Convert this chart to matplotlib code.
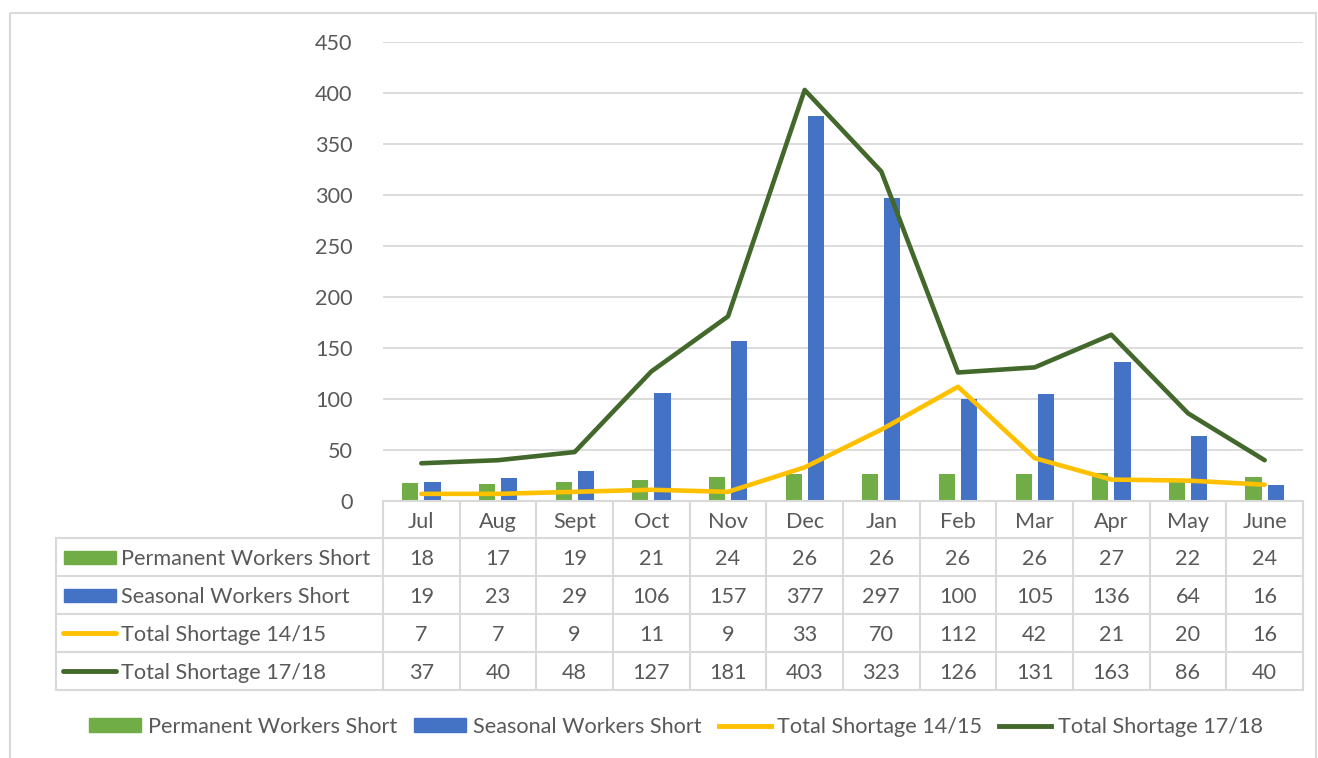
import matplotlib.pyplot as plt
from matplotlib.patches import Rectangle
from matplotlib.lines import Line2D

months = ['Jul', 'Aug', 'Sept', 'Oct', 'Nov', 'Dec', 'Jan', 'Feb', 'Mar', 'Apr', 'May', 'June']
permanent = [18, 17, 19, 21, 24, 26, 26, 26, 26, 27, 22, 24]
seasonal = [19, 23, 29, 106, 157, 377, 297, 100, 105, 136, 64, 16]
total_1415 = [7, 7, 9, 11, 9, 33, 70, 112, 42, 21, 20, 16]
total_1718 = [37, 40, 48, 127, 181, 403, 323, 126, 131, 163, 86, 40]
y_ticks = [0, 50, 100, 150, 200, 250, 300, 350, 400, 450]

c_perm = '#70ad47'
c_seas = '#4472c4'
c_1415 = '#ffc000'
c_1718 = '#43682b'
grid_c = '#d9d9d9'
text_c = '#595959'
fs = 15.6

plt.rcParams['font.family'] = ['Lato', 'DejaVu Sans']

W, H = 1318, 758
fig = plt.figure(figsize=(W / 100, H / 100), dpi=100)

# plot area placed in pixel terms
left, right, top, base = 383, 1303, 42, 501
ax = fig.add_axes([left / W, 1 - base / H, (right - left) / W, (base - top) / H])
x = list(range(len(months)))
ax.bar([i - 0.145 for i in x], permanent, width=0.21, color=c_perm, zorder=2)
ax.bar([i + 0.145 for i in x], seasonal, width=0.21, color=c_seas, zorder=2)
ax.plot(x, total_1415, color=c_1415, lw=3.3, solid_capstyle='round', zorder=3)
ax.plot(x, total_1718, color=c_1718, lw=3.3, solid_capstyle='round', zorder=3)
ax.set_xlim(-0.5, len(months) - 0.5)
ax.set_ylim(0, 450)
ax.set_yticks(y_ticks)
ax.set_xticks([])
ax.tick_params(axis='y', length=0, pad=22, labelsize=fs, labelcolor=text_c)
ax.grid(axis='y', color=grid_c, lw=1.3, zorder=0)
for s in ['top', 'right', 'left']:
    ax.spines[s].set_visible(False)
ax.spines['bottom'].set_color(grid_c)
ax.spines['bottom'].set_linewidth(1.5)

# overlay in pixel coordinates for the data table and chart border
ov = fig.add_axes([0, 0, 1, 1], zorder=-1)
ov.set_xlim(0, W)
ov.set_ylim(H, 0)
ov.axis('off')
ov.add_patch(Rectangle((10, 13), 1306, 750, fill=False, ec=grid_c, lw=1.5))

col_w = (right - left) / len(months)
row_tops = [501, 538, 576, 614, 652, 690]
tab_left = 56
for yy in row_tops[1:]:
    ov.plot([tab_left, right], [yy, yy], color=grid_c, lw=1.5)
ov.plot([tab_left, tab_left], [row_tops[1], row_tops[-1]], color=grid_c, lw=1.5)
for k in range(len(months) + 1):
    xx = left + k * col_w
    ov.plot([xx, xx], [row_tops[0], row_tops[-1]], color=grid_c, lw=1.5)

dy = 2  # nudge text down so the cap height sits centred in each cell
for k, m in enumerate(months):
    cx = left + (k + 0.5) * col_w
    ov.text(cx, (row_tops[0] + row_tops[1]) / 2 + dy, m, ha='center', va='center',
            fontsize=fs, color=text_c)

series = [
    ('Permanent Workers Short', permanent, c_perm, 'bar'),
    ('Seasonal Workers Short', seasonal, c_seas, 'bar'),
    ('Total Shortage 14/15', total_1415, c_1415, 'line'),
    ('Total Shortage 17/18', total_1718, c_1718, 'line'),
]
for r, (name, vals, col, kind) in enumerate(series):
    cy = (row_tops[r + 1] + row_tops[r + 2]) / 2
    if kind == 'bar':
        ov.add_patch(Rectangle((64, cy - 6.5), 52, 13, color=col))
    else:
        ov.plot([63, 116], [cy, cy], color=col, lw=3.5, solid_capstyle='round')
    ov.text(121, cy + dy, name, ha='left', va='center', fontsize=fs, color=text_c)
    for k, v in enumerate(vals):
        cx = left + (k + 0.5) * col_w
        ov.text(cx, cy + dy, str(v), ha='center', va='center', fontsize=fs, color=text_c)

handles = [
    Rectangle((0, 0), 1, 1, color=c_perm),
    Rectangle((0, 0), 1, 1, color=c_seas),
    Line2D([], [], color=c_1415, lw=3.5),
    Line2D([], [], color=c_1718, lw=3.5),
]
fig.legend(handles, [s[0] for s in series], loc='center', ncol=4,
           bbox_to_anchor=(676 / W, 1 - 727 / H), frameon=False, fontsize=fs,
           labelcolor=text_c, handlelength=2.4, handleheight=0.6,
           handletextpad=0.3, columnspacing=0.8)

fig.savefig('out.png', dpi=100)
